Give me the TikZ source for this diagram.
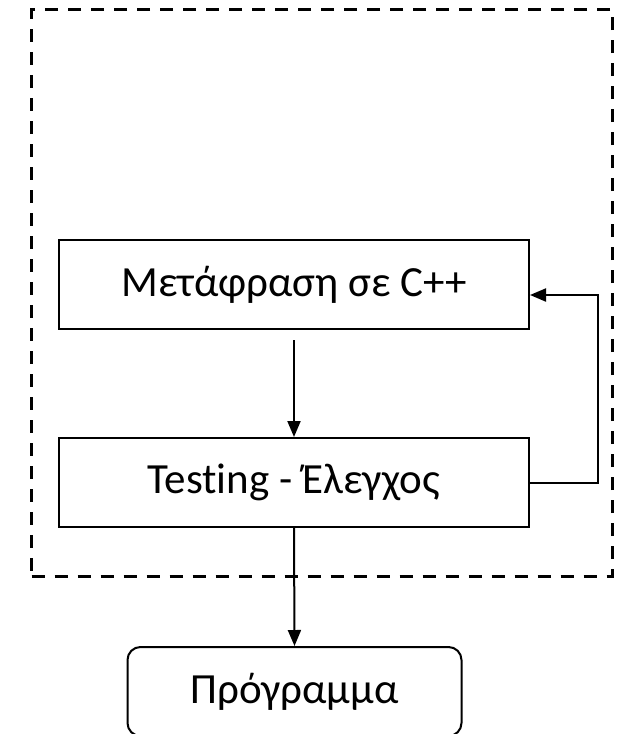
\documentclass[tikz,border=0pt]{standalone}
\usepackage{fontspec}
\setmainfont{Carlito}[Ligatures=NoCommon]
\usetikzlibrary{arrows.meta}
\begin{document}
\begin{tikzpicture}[x=1pt,y=-1pt,
  box/.style={draw, line width=2pt, minimum width=470pt, minimum height=89pt, inner sep=0pt, font=\fontsize{43}{50}\selectfont},
  roundbox/.style={draw, line width=2pt, rounded corners=13pt, minimum width=334pt, minimum height=89pt, inner sep=0pt, font=\fontsize{43}{50}\selectfont},
  frame/.style={draw, line width=3pt, dash pattern=on 13pt off 10pt, minimum width=581pt, minimum height=566.5pt, inner sep=0pt},
  conn/.style={line width=2pt, -{Triangle[length=16pt,width=13pt]}}]
\useasboundingbox (0,0) rectangle (618,734);
\node[frame] (frame) at (322,292.75) {};
\node[box] (b1) at (294,284.5) {Μετάφραση σε C++};
\node[box] (b2) at (294,482.5) {Testing - Έλεγχος};
\node[roundbox] (p) at (294.5,691.5) {Πρόγραμμα};
\draw[conn, shorten <=10pt] (b1.south) -- (b2.north);
\draw[conn] (b2.east) -- ++(67.5,0) coordinate (r) |- ([yshift=-10.5pt]b1.east);
\draw[conn] (b2.south) -- (p.north);
\end{tikzpicture}
\end{document}
